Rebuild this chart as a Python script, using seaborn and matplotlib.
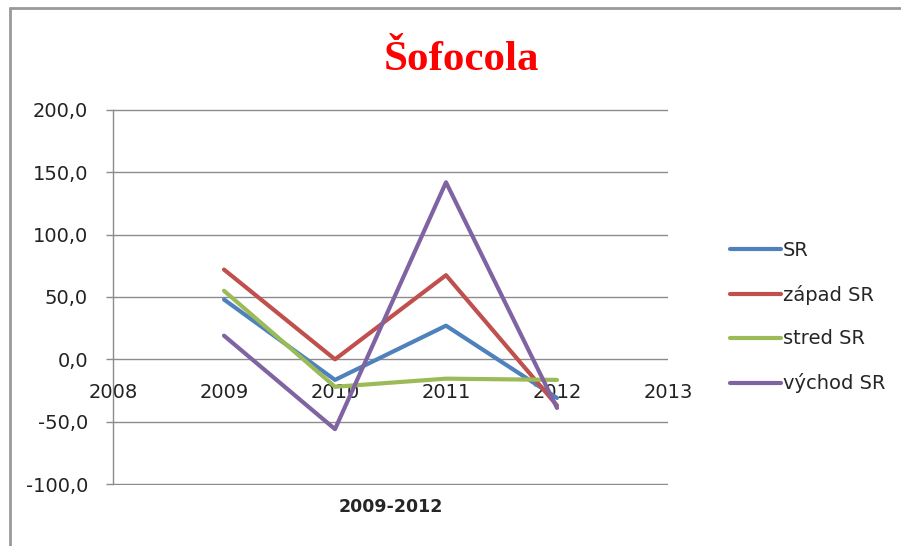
import matplotlib
matplotlib.use("Agg")
import matplotlib.pyplot as plt
import seaborn as sns
import pandas as pd
from matplotlib.lines import Line2D
from matplotlib.ticker import FuncFormatter

years = [2009, 2010, 2011, 2012]
sr = [48, -16.5, 27, -31]
zapad = [72, 0, 67.5, -37]
stred = [55, -22, -15.5, -16.5]
vychod = [19, -56, 142, -39]
series_names = ["SR", "západ SR", "stred SR", "východ SR"]
colors = ["#4F81BD", "#C0504D", "#9BBB59", "#8064A2"]
x_ticks = [2008, 2009, 2010, 2011, 2012, 2013]
y_ticks = [-100, -50, 0, 50, 100, 150, 200]

df = pd.DataFrame({
    "year": years * 4,
    "value": sr + zapad + stred + vychod,
    "series": sum([[n] * len(years) for n in series_names], []),
})

sns.set_style("white")
plt.rcParams["font.family"] = ["DejaVu Sans"]

fig = plt.figure(figsize=(9.01, 5.46), dpi=100)
ax = fig.add_axes([113 / 901, 1 - 485 / 546, (668 - 113) / 901, (485 - 109) / 546])

sns.lineplot(data=df, x="year", y="value", hue="series", hue_order=series_names,
             palette=colors, linewidth=3, ax=ax, legend=False)

ax.set_xlim(2008, 2013)
ax.set_ylim(-100.8, 200.8)
ax.set_yticks(y_ticks)
ax.yaxis.set_major_formatter(FuncFormatter(lambda v, p: f"{v:.1f}".replace(".", ",")))
ax.set_xticks(x_ticks)
ax.set_xticklabels([str(t) for t in x_ticks])
ax.grid(axis="y", color="#8c8c8c", linewidth=1)
ax.grid(axis="x", visible=False)
for s in ["top", "right"]:
    ax.spines[s].set_visible(False)
ax.spines["left"].set_color("#8c8c8c")
ax.spines["left"].set_linewidth(1)
ax.spines["left"].set_bounds(-100, 200)
ax.spines["bottom"].set_position(("data", 0))
ax.spines["bottom"].set_visible(False)
ax.tick_params(axis="y", length=5, color="#8c8c8c", width=1, labelsize=14, pad=13, labelcolor="#222222", left=True)
ax.tick_params(axis="x", length=0, labelsize=14, pad=17, labelcolor="#222222")
ax.set_ylabel("")
ax.set_xlabel("2009-2012", fontsize=12.5, fontweight="bold", labelpad=0)
ax.xaxis.set_label_coords(0.5, -0.035)

handles = [Line2D([], [], color=c, linewidth=3) for c in colors]
fig.legend(handles, series_names, loc="center left", bbox_to_anchor=(730 / 901, 1 - 317 / 546),
           frameon=False, fontsize=14, handlelength=2.6, handletextpad=0.12,
           labelspacing=1.28, borderpad=0, borderaxespad=0)

fig.text(461 / 901, 1 - 60 / 546, "Šofocola", color="#FF0000", fontsize=31, fontweight="bold",
         family="Liberation Serif", ha="center", va="center")

fig.add_artist(Line2D([10 / 901, 10 / 901], [0, 1 - 8 / 546], color="#999999", linewidth=2,
                      transform=fig.transFigure))
fig.add_artist(Line2D([10 / 901, 1], [1 - 8 / 546, 1 - 8 / 546], color="#999999", linewidth=2,
                      transform=fig.transFigure))

fig.savefig("out.png", dpi=100)
